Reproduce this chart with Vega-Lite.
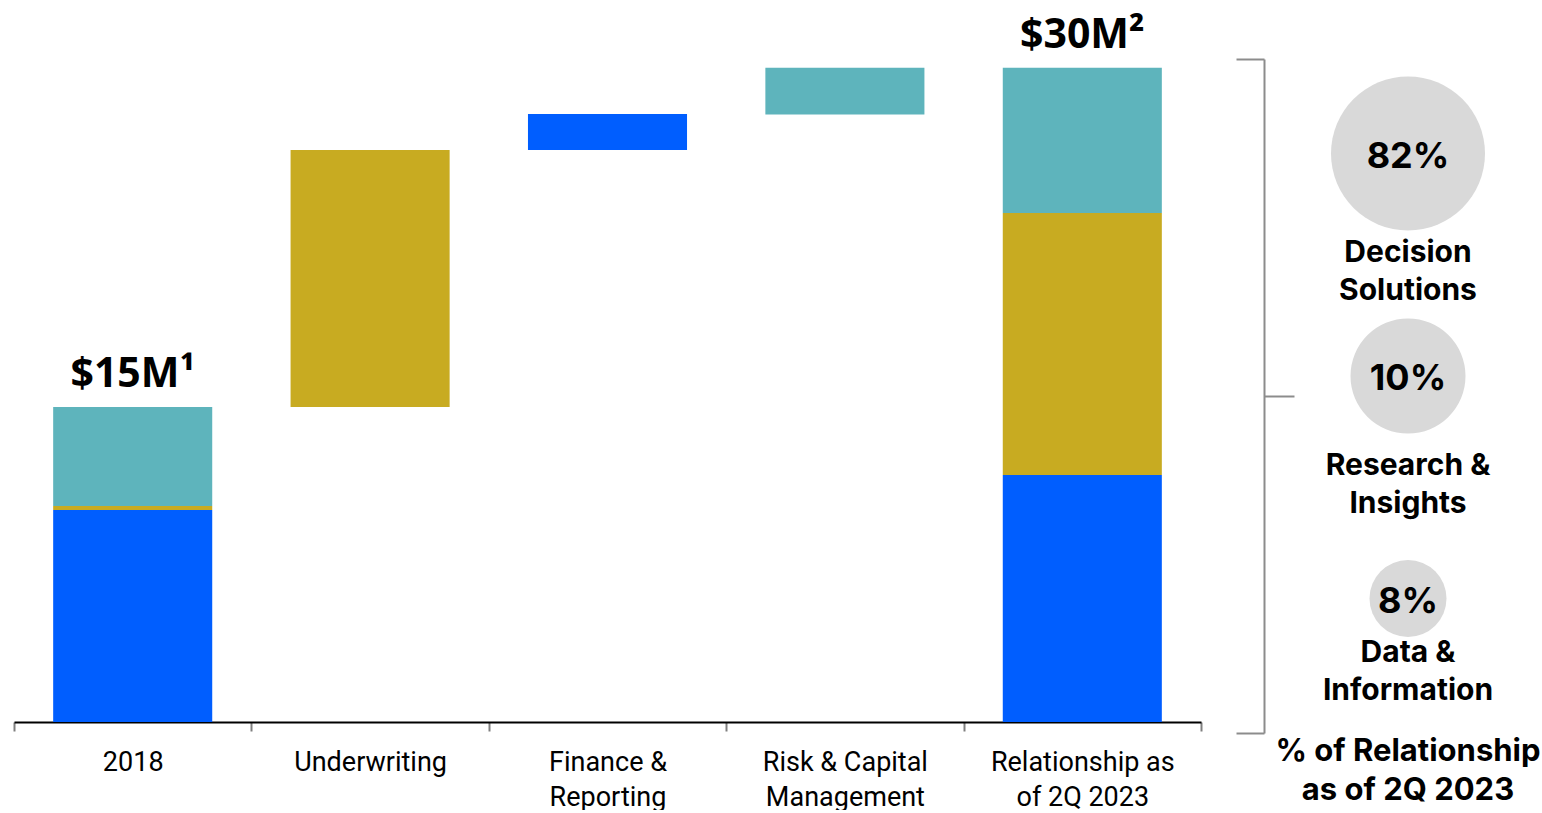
{
  "$schema": "https://vega.github.io/schema/vega-lite/v6.json",
  "background": "white",
  "padding": {"left": 13, "top": 14, "right": 0, "bottom": 0},
  "bounds": "flush",
  "spacing": 72,
  "config": {"view": {"stroke": null}},
  "datasets": {
    "waterfall": [
      {"category": "2018", "area": "Finance & Reporting", "start": 0, "end": 9.72},
      {"category": "2018", "area": "Underwriting", "start": 9.72, "end": 9.91},
      {"category": "2018", "area": "Risk & Capital Management", "start": 9.91, "end": 14.45},
      {"category": "Underwriting", "area": "Underwriting", "start": 14.45, "end": 26.23},
      {"category": "Finance & Reporting", "area": "Finance & Reporting", "start": 26.23, "end": 27.88},
      {"category": "Risk & Capital Management", "area": "Risk & Capital Management", "start": 27.85, "end": 30},
      {"category": "Relationship as of 2Q 2023", "area": "Finance & Reporting", "start": 0, "end": 11.33},
      {"category": "Relationship as of 2Q 2023", "area": "Underwriting", "start": 11.33, "end": 23.34},
      {"category": "Relationship as of 2Q 2023", "area": "Risk & Capital Management", "start": 23.34, "end": 30}
    ],
    "totals": [
      {"category": "2018", "total": 14.45, "label": "$15M¹"},
      {"category": "Relationship as of 2Q 2023", "total": 30, "label": "$30M²"}
    ],
    "shares": [
      {"segment": "Decision Solutions", "share": 0.82, "label": "Decision\nSolutions"},
      {"segment": "Research & Insights", "share": 0.10, "label": "Research &\nInsights"},
      {"segment": "Data & Information", "share": 0.08, "label": "Data &\nInformation"}
    ]
  },
  "hconcat": [
    {
      "width": 1187,
      "height": 674,
      "layer": [
        {
          "data": {"name": "waterfall"},
          "mark": {"type": "bar", "width": {"band": 0.67}},
          "encoding": {
            "x": {
              "field": "category",
              "type": "nominal",
              "scale": {
                "domain": ["2018", "Underwriting", "Finance & Reporting", "Risk & Capital Management", "Relationship as of 2Q 2023"],
                "paddingInner": 0,
                "paddingOuter": 0
              },
              "axis": {
                "orient": "bottom",
                "offset": -11,
                "title": null,
                "tickBand": "extent",
                "domainColor": "#000000",
                "domainWidth": 2,
                "tickColor": "#7f7f7f",
                "tickWidth": 2,
                "tickSize": 9,
                "labelAngle": 0,
                "labelFont": "Roboto",
                "labelFontSize": 27,
                "labelColor": "#000000",
                "labelPadding": 18,
                "labelLineHeight": 35,
                "labelLimit": 300,
                "labelExpr": "datum.label == 'Finance & Reporting' ? ['Finance &', 'Reporting'] : datum.label == 'Risk & Capital Management' ? ['Risk & Capital', 'Management'] : datum.label == 'Relationship as of 2Q 2023' ? ['Relationship as', 'of 2Q 2023'] : datum.label",
                "grid": false
              }
            },
            "y": {
              "field": "start",
              "type": "quantitative",
              "scale": {"domain": [-0.5, 30.4], "nice": false, "zero": false},
              "axis": {
                "orient": "right",
                "offset": 63,
                "title": null,
                "values": [-0.5, 30.4],
                "labels": false,
                "grid": false,
                "domainColor": "#8c8c8c",
                "domainWidth": 2,
                "tickColor": "#8c8c8c",
                "tickWidth": 2,
                "tickSize": -28
              }
            },
            "y2": {"field": "end"},
            "color": {
              "field": "area",
              "type": "nominal",
              "scale": {
                "domain": ["Finance & Reporting", "Underwriting", "Risk & Capital Management"],
                "range": ["#005EFF", "#C8AB21", "#5EB4BC"]
              },
              "legend": null
            }
          }
        },
        {
          "data": {"name": "totals"},
          "mark": {"type": "text", "font": "Open Sans", "fontWeight": "bold", "fontSize": 41, "baseline": "alphabetic", "dy": -20, "color": "#000000"},
          "encoding": {
            "x": {"field": "category", "type": "nominal"},
            "y": {
              "field": "total",
              "type": "quantitative",
              "scale": {"domain": [-0.5, 30.4], "nice": false, "zero": false},
              "axis": {
                "orient": "right",
                "offset": 63,
                "title": null,
                "values": [14.95],
                "labels": false,
                "grid": false,
                "domain": false,
                "tickColor": "#8c8c8c",
                "tickWidth": 2,
                "tickSize": 30
              }
            },
            "text": {"field": "label"}
          }
        }
      ],
      "resolve": {"axis": {"y": "independent"}}
    },
    {
      "width": 270,
      "height": 674,
      "data": {"name": "shares"},
      "title": {
        "text": ["% of Relationship", "as of 2Q 2023"],
        "orient": "bottom",
        "anchor": "middle",
        "offset": 4,
        "font": "Inter",
        "fontSize": 31,
        "fontWeight": "bold",
        "lineHeight": 39,
        "color": "#000000",
        "baseline": "top"
      },
      "layer": [
        {
          "mark": {"type": "circle", "color": "#D9D9D9", "opacity": 1},
          "encoding": {
            "y": {
              "field": "segment",
              "type": "nominal",
              "scale": {"type": "point", "domain": ["Decision Solutions", "Research & Insights", "Data & Information"], "padding": 0.5146, "align": 0.4127},
              "axis": null
            },
            "size": {
              "field": "share",
              "type": "quantitative",
              "scale": {"domain": [0.08, 0.10, 0.82], "range": [5929, 13225, 23716]},
              "legend": null
            }
          }
        },
        {
          "mark": {"type": "text", "font": "Inter", "fontWeight": "bold", "fontSize": 36, "dy": 3, "color": "#000000"},
          "encoding": {
            "y": {"field": "segment", "type": "nominal"},
            "text": {"field": "share", "type": "quantitative", "format": ".0%"}
          }
        },
        {
          "mark": {"type": "text", "font": "Inter", "fontWeight": "bold", "fontSize": 30, "baseline": "top", "lineHeight": 38, "lineBreak": "\n", "color": "#000000"},
          "encoding": {
            "y": {"field": "segment", "type": "nominal"},
            "yOffset": {
              "field": "share",
              "type": "quantitative",
              "scale": {"domain": [0.08, 0.10, 0.82], "range": [39.7, 74.7, 84.7]}
            },
            "text": {"field": "label"}
          }
        }
      ]
    }
  ]
}
